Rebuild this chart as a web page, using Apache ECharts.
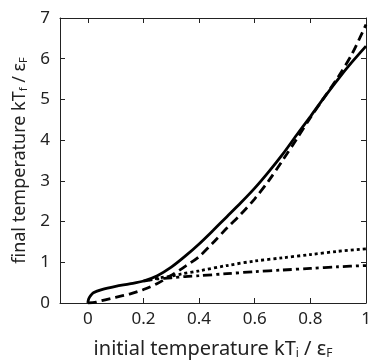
<!DOCTYPE html>
<html><head><meta charset="utf-8">
<script src="https://cdn.jsdelivr.net/npm/echarts@6/dist/echarts.min.js"></script>
<style>html,body{margin:0;padding:0;background:#fff}#c{width:382px;height:363px}</style>
</head><body><div id="c"></div>
<script>
var xTicks = [0, 0.2, 0.4, 0.6, 0.8, 1];
var yTicks = [0, 1, 2, 3, 4, 5, 6, 7];
var solidX = [0, 0.003, 0.01, 0.02, 0.05, 0.1, 0.15, 0.2, 0.25, 0.3, 0.35, 0.4, 0.45, 0.5, 0.55, 0.6, 0.65, 0.7, 0.75, 0.8, 0.85, 0.9, 0.95, 1];
var solidY = [0, 0.1, 0.18, 0.25, 0.33, 0.41, 0.47, 0.54, 0.67, 0.88, 1.15, 1.45, 1.78, 2.12, 2.46, 2.82, 3.22, 3.65, 4.12, 4.58, 5.05, 5.5, 5.92, 6.31];
var dashX = [0, 0.03, 0.05, 0.1, 0.15, 0.2, 0.25, 0.3, 0.35, 0.4, 0.45, 0.5, 0.55, 0.6, 0.65, 0.7, 0.75, 0.8, 0.85, 0.9, 0.95, 1];
var dashY = [0, 0.02, 0.06, 0.14, 0.22, 0.33, 0.48, 0.68, 0.9, 1.14, 1.48, 1.84, 2.18, 2.56, 3.0, 3.5, 4.02, 4.55, 5.05, 5.55, 6.12, 6.84];
var dotX = [0.22, 0.26, 0.3, 0.334, 0.4, 0.5, 0.6, 0.7, 0.8, 0.9, 1];
var dotY = [0.57, 0.62, 0.66, 0.71, 0.79, 0.92, 1.03, 1.11, 1.19, 1.27, 1.33];
var dashDotX = [0.2, 0.25, 0.3, 0.35, 0.4, 0.5, 0.6, 0.7, 0.8, 0.9, 1];
var dashDotY = [0.54, 0.59, 0.62, 0.65, 0.67, 0.72, 0.77, 0.81, 0.85, 0.89, 0.92];

function pairs(xs, ys){ return xs.map(function(x,i){return [x, ys[i]];}); }
var font = 'Noto Sans';
function rich(size){
  return {
    a:{fontSize:size, color:'#222', fontFamily:font},
    s:{fontSize:Math.round(size*0.6), color:'#222', fontFamily:font, verticalAlign:'bottom', padding:[Math.round(size*0.45),0,0,0]}
  };
}
function line(data, type){
  return {type:'line', data:data, showSymbol:false, smooth:0.3, silent:true, animation:false,
    lineStyle:{color:'#000', width:2.8, type:type, cap:'butt'}};
}
var chart = echarts.init(document.getElementById('c'));
chart.setOption({
  animation:false,
  grid:{left:60, right:16, top:18, bottom:60, containLabel:false, outerBoundsMode:'none'},
  xAxis:[{
    type:'value', min:-0.1, max:1, position:'bottom',
    name:'{a|initial temperature kT}{s|i}{a| / ε}{s|F}', nameLocation:'middle', nameGap:36,
    nameTextStyle:{rich:rich(20)},
    axisLine:{onZero:false, lineStyle:{color:'#222', width:1}},
    axisTick:{inside:true, length:5, customValues:xTicks, lineStyle:{color:'#222'}},
    axisLabel:{customValues:xTicks, fontSize:17, color:'#222', fontFamily:font, margin:8},
    splitLine:{show:false}
  },{
    type:'value', min:-0.1, max:1, position:'top',
    axisLine:{onZero:false, lineStyle:{color:'#222', width:1}},
    axisTick:{inside:true, length:5, customValues:xTicks, lineStyle:{color:'#222'}},
    axisLabel:{show:false}, splitLine:{show:false}
  }],
  yAxis:[{
    type:'value', min:0, max:7, interval:1, position:'left',
    name:'{a|final temperature kT}{s|f}{a| / ε}{s|F}', nameLocation:'middle', nameGap:27,
    nameTextStyle:{rich:rich(18)},
    axisLine:{show:true, onZero:false, lineStyle:{color:'#222', width:1}},
    axisTick:{show:true, inside:true, length:5, lineStyle:{color:'#222'}},
    axisLabel:{fontSize:17, color:'#222', fontFamily:font, margin:10},
    splitLine:{show:false}
  },{
    type:'value', min:0, max:7, interval:1, position:'right',
    axisLine:{show:true, onZero:false, lineStyle:{color:'#222', width:1}},
    axisTick:{show:true, inside:true, length:5, lineStyle:{color:'#222'}},
    axisLabel:{show:false}, splitLine:{show:false}
  }],
  series:[
    line(pairs(dotX, dotY), [3,3]),
    line(pairs(dashDotX, dashDotY), [9,4,3,4]),
    line(pairs(dashX, dashY), [9,5]),
    line(pairs(solidX, solidY), 'solid')
  ]
});
</script></body></html>
